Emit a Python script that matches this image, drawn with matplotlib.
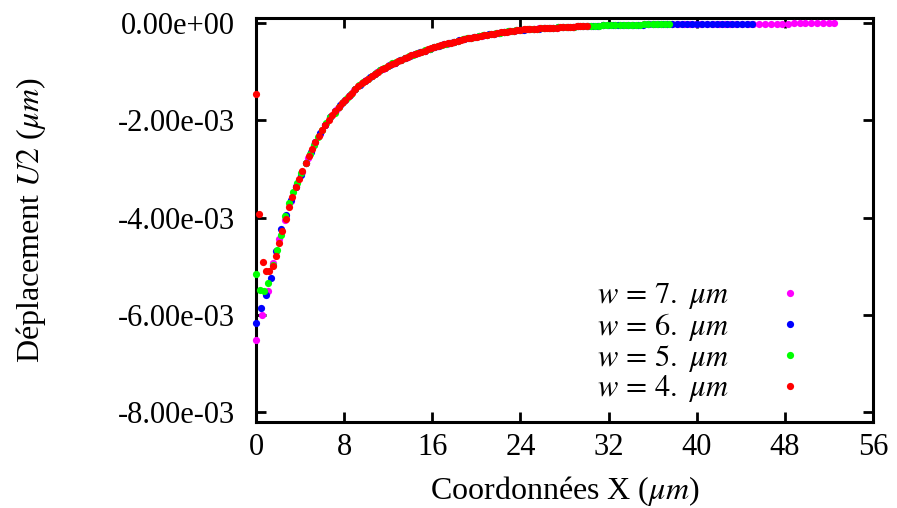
import numpy as np
import matplotlib
matplotlib.use("Agg")
import matplotlib.pyplot as plt
from matplotlib.ticker import FuncFormatter

plt.rcParams['font.family'] = ['Liberation Serif', 'DejaVu Serif']
plt.rcParams['mathtext.fontset'] = 'stix'
plt.rcParams['font.size'] = 22

# mesh length of each case (um), 101 nodes each
lengths = [52.5, 45.0, 37.5, 30.0]
labels = [r'$w\,=\,7.\ \mu m$', r'$w\,=\,6.\ \mu m$', r'$w\,=\,5.\ \mu m$', r'$w\,=\,4.\ \mu m$']
colors = ['#ff00ff', '#0000ff', '#00ff00', '#ff0000']

# U2 displacement, units of 1e-3 um
u2_w7 = [-6.51, -6.00, -5.52, -4.94, -4.45, -4.05, -3.65, -3.35, -3.06, -2.77,
         -2.51, -2.29, -2.09, -1.92, -1.77, -1.63, -1.50, -1.38, -1.27, -1.18,
         -1.09, -1.00, -0.94, -0.87, -0.81, -0.76, -0.71, -0.66, -0.61, -0.57,
         -0.53, -0.49, -0.45, -0.42, -0.39, -0.36, -0.33, -0.30, -0.28, -0.26,
         -0.24, -0.22, -0.20, -0.18, -0.17, -0.15, -0.14, -0.13, -0.12, -0.11,
         -0.10, -0.10, -0.09, -0.08, -0.07, -0.07, -0.06, -0.06, -0.05, -0.05,
         -0.04, -0.04, -0.04, -0.03, -0.03, -0.03, -0.03, -0.02, -0.02, -0.02,
         -0.02, -0.02, -0.02, -0.02, -0.01, -0.01, -0.01, -0.01, -0.01, -0.01,
         -0.01, -0.01, -0.01, -0.01, -0.01, -0.01, -0.01, -0.01, -0.01, -0.01,
         -0.01, -0.01, -0.01, 0.0, 0.0, 0.0, 0.0, 0.0, 0.0, 0.0,
         0.0]
u2_w6 = [-6.17, -5.87, -5.60, -5.25, -4.69, -4.24, -3.95, -3.63, -3.38, -3.13,
         -2.88, -2.65, -2.45, -2.26, -2.09, -1.94, -1.81, -1.69, -1.58, -1.47,
         -1.36, -1.27, -1.19, -1.11, -1.04, -0.97, -0.92, -0.86, -0.81, -0.76,
         -0.72, -0.68, -0.64, -0.60, -0.57, -0.53, -0.49, -0.46, -0.43, -0.41,
         -0.38, -0.35, -0.33, -0.31, -0.29, -0.27, -0.25, -0.23, -0.22, -0.20,
         -0.18, -0.17, -0.16, -0.15, -0.14, -0.13, -0.12, -0.12, -0.11, -0.10,
         -0.09, -0.08, -0.08, -0.07, -0.07, -0.06, -0.06, -0.05, -0.05, -0.05,
         -0.04, -0.04, -0.04, -0.04, -0.03, -0.03, -0.03, -0.03, -0.03, -0.02,
         -0.02, -0.02, -0.02, -0.02, -0.02, -0.02, -0.02, -0.01, -0.01, -0.01,
         -0.01, -0.01, -0.01, -0.01, -0.01, -0.01, -0.01, -0.01, -0.01, -0.01,
         -0.01]
u2_w5 = [-5.17, -5.50, -5.51, -5.34, -4.98, -4.67, -4.35, -3.97, -3.70, -3.47,
         -3.28, -3.08, -2.88, -2.69, -2.51, -2.35, -2.20, -2.06, -1.94, -1.84,
         -1.73, -1.63, -1.54, -1.45, -1.36, -1.28, -1.21, -1.15, -1.09, -1.03,
         -0.97, -0.92, -0.88, -0.83, -0.79, -0.76, -0.72, -0.68, -0.65, -0.62,
         -0.59, -0.56, -0.53, -0.50, -0.47, -0.45, -0.42, -0.40, -0.38, -0.36,
         -0.33, -0.31, -0.30, -0.28, -0.27, -0.25, -0.24, -0.22, -0.21, -0.20,
         -0.18, -0.17, -0.16, -0.15, -0.14, -0.13, -0.13, -0.12, -0.12, -0.11,
         -0.10, -0.10, -0.09, -0.08, -0.08, -0.07, -0.07, -0.07, -0.06, -0.06,
         -0.05, -0.05, -0.05, -0.05, -0.04, -0.04, -0.04, -0.04, -0.03, -0.03,
         -0.03, -0.03, -0.03, -0.03, -0.02, -0.02, -0.02, -0.02, -0.02, -0.02,
         -0.02]
u2_w4 = [-1.45, -3.92, -4.91, -5.10, -5.10, -5.00, -4.79, -4.53, -4.28, -4.02,
         -3.79, -3.57, -3.38, -3.21, -3.04, -2.88, -2.73, -2.58, -2.45, -2.32,
         -2.20, -2.09, -1.99, -1.90, -1.81, -1.73, -1.65, -1.58, -1.50, -1.43,
         -1.36, -1.30, -1.24, -1.19, -1.14, -1.09, -1.04, -1.00, -0.95, -0.92,
         -0.88, -0.84, -0.81, -0.78, -0.75, -0.72, -0.69, -0.66, -0.64, -0.61,
         -0.59, -0.57, -0.54, -0.52, -0.49, -0.47, -0.45, -0.43, -0.41, -0.40,
         -0.38, -0.36, -0.34, -0.33, -0.31, -0.30, -0.29, -0.28, -0.26, -0.25,
         -0.24, -0.23, -0.22, -0.20, -0.19, -0.18, -0.18, -0.17, -0.16, -0.15,
         -0.14, -0.13, -0.13, -0.12, -0.12, -0.12, -0.11, -0.11, -0.10, -0.10,
         -0.09, -0.09, -0.08, -0.08, -0.07, -0.07, -0.07, -0.06, -0.06, -0.06,
         -0.05]

series = [u2_w7, u2_w6, u2_w5, u2_w4]

fig = plt.figure(figsize=(8.97, 5.08), dpi=100)
ax = fig.add_axes([0.2854, 0.170, 0.6878, 0.794])

for L, u, c, lab in zip(lengths, series, colors, labels):
    x = np.linspace(0, L, len(u))
    ax.plot(x, np.array(u) * 1e-3, 'o', color=c, ms=5.2, mew=0,
            label=lab, clip_on=False, zorder=3)

ax.set_xlim(0, 56)
ax.set_ylim(-0.0082, 0.0001)
ax.set_xticks(range(0, 57, 8))
ax.set_yticks([0, -0.002, -0.004, -0.006, -0.008])
ax.yaxis.set_major_formatter(FuncFormatter(lambda v, p: '%.2e' % v))

for s in ax.spines.values():
    s.set_linewidth(2.2)
ax.tick_params(direction='in', length=7, width=2, top=True, right=True,
               labelsize=22)
ax.tick_params(axis='x', pad=8)
ax.tick_params(axis='y', pad=15)

ax.set_xlabel(r'Coordonnées X ($\mu m$)', fontsize=23, labelpad=9)
ax.set_ylabel(r'Déplacement $\mathit{U2}$ ($\mu m$)', fontsize=23, labelpad=50)

leg = ax.legend(loc='lower right', bbox_to_anchor=(0.915, 0.005), frameon=False,
                markerfirst=False, handletextpad=1.5, labelspacing=-0.01,
                borderpad=0, handlelength=1.0, fontsize=22)

fig.savefig('out.png', dpi=100)
